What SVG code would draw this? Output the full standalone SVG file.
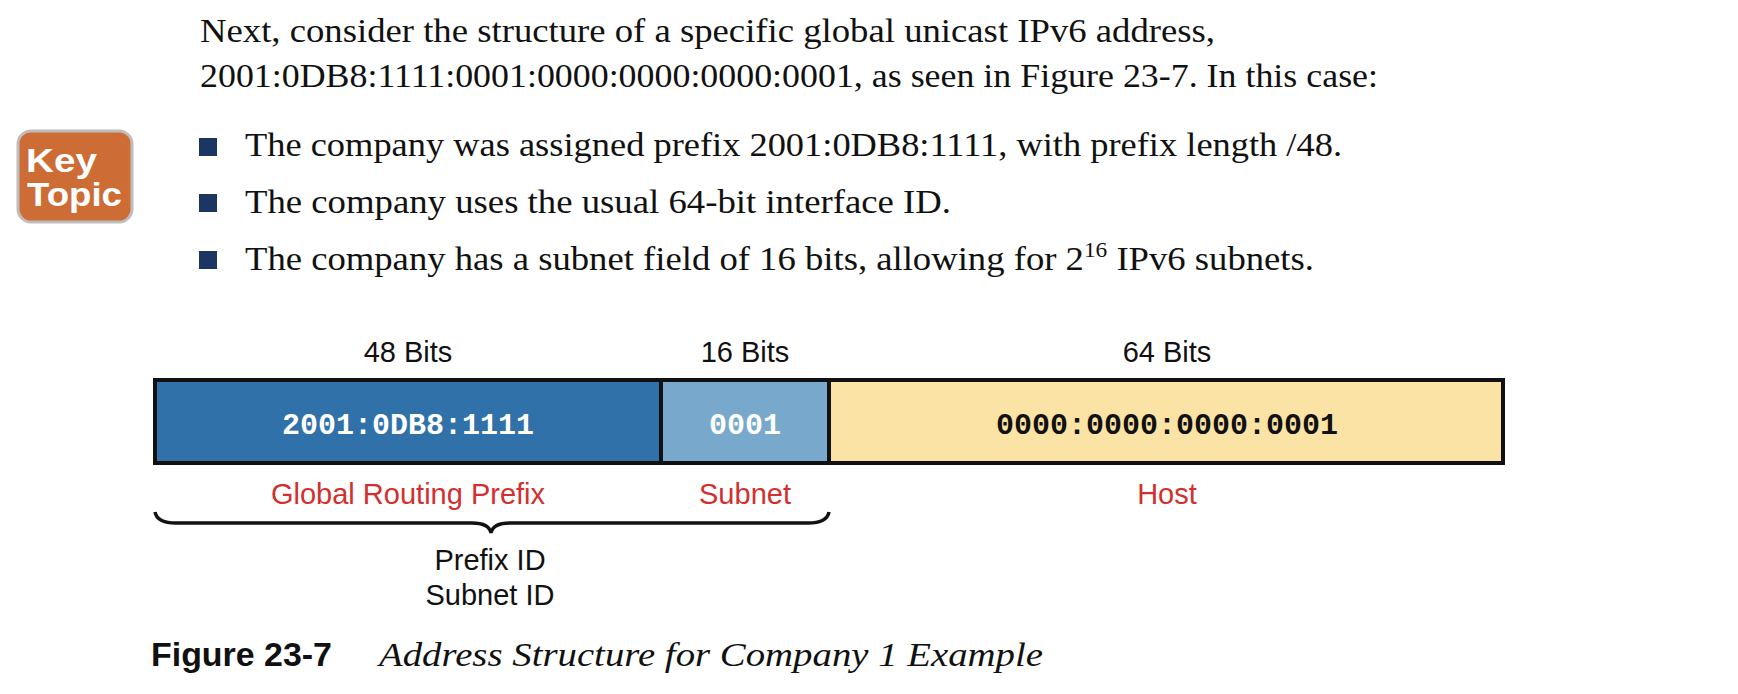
<svg xmlns="http://www.w3.org/2000/svg" width="1738" height="694" viewBox="0 0 1738 694">
<style>
.body{font-family:"Liberation Serif",serif;font-size:33px;fill:#111}
.lbl{font-family:"Liberation Sans",Arial,sans-serif;font-size:29px;fill:#111;text-anchor:middle}
.red{fill:#D2302E}
.mono{font-family:"Liberation Mono",monospace;font-weight:bold;font-size:30px;text-anchor:middle}
.seg{stroke:#111;stroke-width:4}
.bullet{fill:#1B3663}
.kt{font-family:"Liberation Sans",Arial,sans-serif;font-weight:bold;font-size:33px;fill:#fff}
</style>
<rect width="1738" height="694" fill="#fff"/>
<g id="intro">
<text class="body" x="200" y="42" textLength="1015" lengthAdjust="spacingAndGlyphs">Next, consider the structure of a specific global unicast IPv6 address,</text>
<text class="body" x="200" y="87" textLength="1178" lengthAdjust="spacingAndGlyphs">2001:0DB8:1111:0001:0000:0000:0000:0001, as seen in Figure 23-7. In this case:</text>
</g>
<g id="key-topic">
<rect x="18" y="131" width="114" height="91" rx="13" fill="#CD6C34" stroke="#BDBDBD" stroke-width="3"/>
<text class="kt" x="26" y="172" textLength="71" lengthAdjust="spacingAndGlyphs">Key</text>
<text class="kt" x="27" y="206" textLength="95" lengthAdjust="spacingAndGlyphs">Topic</text>
</g>
<g id="bullets">
<rect class="bullet" x="199" y="138" width="18" height="18"/>
<text class="body" x="245" y="156" textLength="1097" lengthAdjust="spacingAndGlyphs">The company was assigned prefix 2001:0DB8:1111, with prefix length /48.</text>
<rect class="bullet" x="199" y="194" width="18" height="18"/>
<text class="body" x="245" y="213" textLength="706" lengthAdjust="spacingAndGlyphs">The company uses the usual 64-bit interface ID.</text>
<rect class="bullet" x="199" y="251" width="18" height="18"/>
<text class="body" x="245" y="270" textLength="1069" lengthAdjust="spacingAndGlyphs">The company has a subnet field of 16 bits, allowing for 2<tspan font-size="21" dy="-13">16</tspan><tspan dy="13"> IPv6 subnets.</tspan></text>
</g>
<g id="prefix-field">
<rect class="seg" x="155" y="380" width="506" height="83" fill="#3171A9"/>
<text class="lbl" x="408" y="362">48 Bits</text>
<text class="mono" x="408" y="434" fill="#fff">2001:0DB8:1111</text>
<text class="lbl red" x="408" y="504">Global Routing Prefix</text>
</g>
<g id="subnet-field">
<rect class="seg" x="661" y="380" width="168" height="83" fill="#78A9CD"/>
<text class="lbl" x="745" y="362">16 Bits</text>
<text class="mono" x="745" y="434" fill="#fff">0001</text>
<text class="lbl red" x="745" y="504">Subnet</text>
</g>
<g id="host-field">
<rect class="seg" x="829" y="380" width="674" height="83" fill="#FAE3A5"/>
<text class="lbl" x="1167" y="362">64 Bits</text>
<text class="mono" x="1167" y="434" fill="#111">0000:0000:0000:0001</text>
<text class="lbl red" x="1167" y="504">Host</text>
</g>
<g id="connectors">
<path d="M155,512 Q157,523 176,523 L472,523 Q489,523 491,533 Q493,523 510,523 L808,523 Q827,523 829,512" fill="none" stroke="#111" stroke-width="3.5"/>
</g>
<g id="prefix-id">
<text class="lbl" x="490" y="570">Prefix ID</text>
<text class="lbl" x="490" y="605">Subnet ID</text>
</g>
<g id="caption">
<text x="151" y="666" font-family="Liberation Sans,Arial,sans-serif" font-weight="bold" font-size="33" fill="#111" textLength="181" lengthAdjust="spacingAndGlyphs">Figure 23-7</text>
<text x="379" y="666" font-family="Liberation Serif,serif" font-style="italic" font-size="34" fill="#111" textLength="664" lengthAdjust="spacingAndGlyphs">Address Structure for Company 1 Example</text>
</g>
</svg>
